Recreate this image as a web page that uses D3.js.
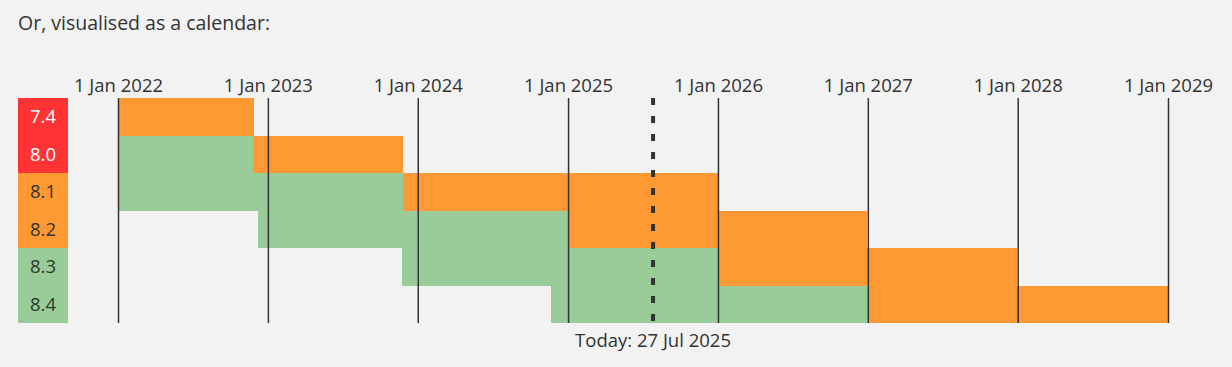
<!DOCTYPE html>
<html>
<head>
<meta charset="utf-8">
<script src="https://cdn.jsdelivr.net/npm/d3@7"></script>
<style>
  body { margin: 0; background: #f2f2f2; }
  svg { display: block; font-family: "Open Sans", "Noto Sans", sans-serif; }
</style>
</head>
<body>
<div id="chart"></div>
<script>
// PHP branches and their support dates
const versions = ["7.4", "8.0", "8.1", "8.2", "8.3", "8.4"]
const releaseDates = ["2019-11-28", "2020-11-26", "2021-11-25", "2022-12-08", "2023-11-23", "2024-11-21"]
const activeEnd = ["2021-11-28", "2022-11-26", "2023-11-25", "2024-12-31", "2025-12-31", "2026-12-31"]
const securityEnd = ["2022-11-28", "2023-11-26", "2025-12-31", "2026-12-31", "2027-12-31", "2028-12-31"]
const branchState = ["eol", "eol", "security", "security", "stable", "stable"]
const tickYears = [2022, 2023, 2024, 2025, 2026, 2027, 2028, 2029]
const today = "2025-07-27"

const width = 1232
const height = 367
const margin = {top: 98, left: 118, right: 64, bottom: 44}

const colors = {eol: "#ff3333", security: "#ff9933", stable: "#99cc99"}
const labelColors = {eol: "#ffffff", security: "#333333", stable: "#2a3a2a"}

const parse = d3.utcParse("%Y-%m-%d")
const start = d3.min(tickYears, y => new Date(Date.UTC(y, 0, 1)))
const end = d3.max(tickYears, y => new Date(Date.UTC(y, 0, 1)))

const svg = d3.select("div#chart").append("svg").attr("width", width).attr("height", height)

svg.append("text")
    .attr("x", 18)
    .attr("y", 30)
    .style("font-size", "19.5px")
    .attr("fill", "#333")
    .text("Or, visualised as a calendar:")

const x = d3.scaleUtc().domain([start, end]).range([margin.left, width - margin.right])
const y = d3.scaleBand().domain(versions).range([margin.top, height - margin.bottom])

const clampDate = d => d < start ? start : (d > end ? end : d)

const rows = versions.map((v, i) => ({
    version: v,
    state: branchState[i],
    release: parse(releaseDates[i]),
    active: parse(activeEnd[i]),
    security: parse(securityEnd[i])
}))

// version labels on the left
const labelG = svg.append("g").attr("class", "labels")
labelG.selectAll("rect").data(rows).enter().append("rect")
    .attr("x", 18)
    .attr("y", d => y(d.version))
    .attr("width", 50)
    .attr("height", y.bandwidth())
    .attr("fill", d => colors[d.state])
    .attr("shape-rendering", "crispEdges")
labelG.selectAll("text").data(rows).enter().append("text")
    .attr("x", 43)
    .attr("y", d => y(d.version) + y.bandwidth() / 2)
    .attr("dy", "0.36em")
    .attr("text-anchor", "middle")
    .style("font-size", "18.5px")
    .attr("fill", d => labelColors[d.state])
    .text(d => d.version)

// active (green) and security (orange) bars
const barG = svg.append("g").attr("class", "bars")
const segs = []
rows.forEach(r => {
    segs.push({version: r.version, from: r.release, to: r.active, kind: "stable"})
    segs.push({version: r.version, from: r.active, to: r.security, kind: "security"})
})
barG.selectAll("rect").data(segs.filter(s => s.to > start)).enter().append("rect")
    .attr("x", d => x(clampDate(d.from)))
    .attr("y", d => y(d.version))
    .attr("width", d => x(clampDate(d.to)) - x(clampDate(d.from)))
    .attr("height", y.bandwidth())
    .attr("fill", d => colors[d.kind])
    .attr("shape-rendering", "crispEdges")

// year lines + labels
const xAxis = d3.axisTop(x)
    .tickValues(tickYears.map(yr => new Date(Date.UTC(yr, 0, 1))))
    .tickFormat(d3.utcFormat("%-d %b %Y"))
    .tickSizeInner(-(height - margin.bottom - margin.top))
    .tickSizeOuter(0)
    .tickPadding(6)

const axisG = svg.append("g").attr("transform", `translate(0,${margin.top})`).call(xAxis)
axisG.select(".domain").remove()
axisG.selectAll(".tick line").attr("stroke", "#333").attr("stroke-width", 1.5)
axisG.selectAll(".tick text")
    .attr("fill", "#333")
    .style("font-size", "18.5px")
axisG.attr("font-family", null).attr("font-size", null)

// today marker
const todayDate = parse(today)
svg.append("line")
    .attr("x1", x(todayDate)).attr("x2", x(todayDate))
    .attr("y1", margin.top).attr("y2", height - margin.bottom)
    .attr("stroke", "#333")
    .attr("stroke-width", 4)
    .attr("stroke-dasharray", "7,11")

svg.append("text")
    .attr("x", x(todayDate))
    .attr("y", 347)
    .attr("text-anchor", "middle")
    .style("font-size", "18.5px")
    .attr("fill", "#333")
    .text("Today: " + d3.utcFormat("%-d %b %Y")(todayDate))
</script>
</body>
</html>
